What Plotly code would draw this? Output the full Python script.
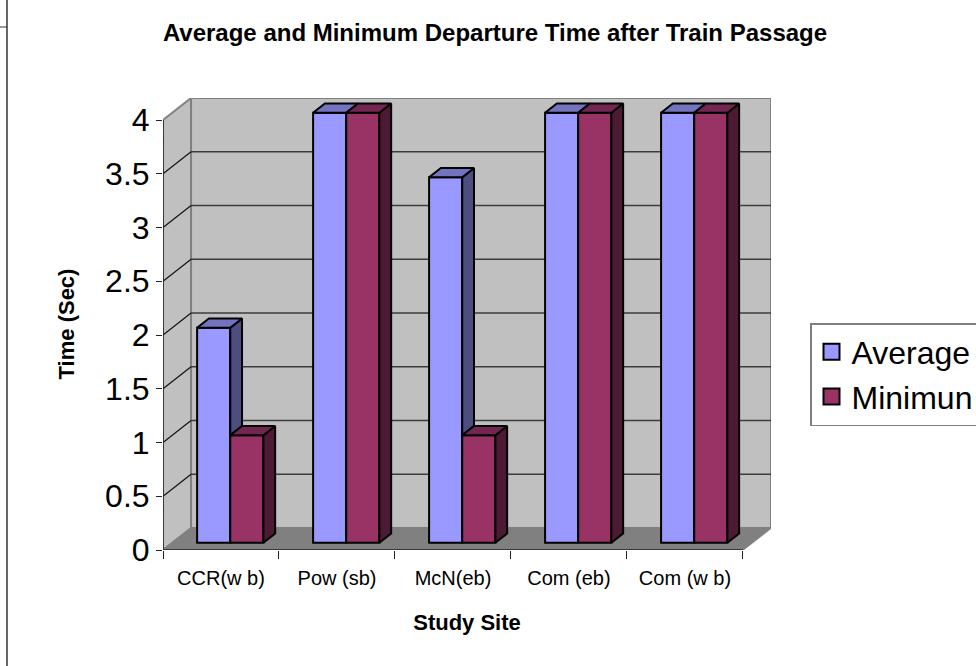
import plotly.graph_objects as go

categories = ["CCR(w b)", "Pow (sb)", "McN(eb)", "Com (eb)", "Com (w b)"]
average = [2, 4, 3.4, 4, 4]
minimum = [1, 4, 1, 4, 4]
y_ticks = [0, 0.5, 1, 1.5, 2, 2.5, 3, 3.5, 4]
y_labels = ["0", "0.5", "1", "1.5", "2", "2.5", "3", "3.5", "4"]

# pseudo-3D projection, in data units
DX, DY = 28 / 115.8, 22 / 107.5
FRONT, BACK = 0.33, 0.75
W = 0.2857
X_MAX = 5 + DX
Y_MAX = (550 - 98) / 107.5
EDGE = 2


def dpt(x, y, d):
    return x + d * DX, y + d * DY


def poly(pts, fill, width=EDGE, color="black"):
    xs = [p[0] for p in pts] + [pts[0][0]]
    ys = [p[1] for p in pts] + [pts[0][1]]
    return go.Scatter(x=xs, y=ys, mode="lines", fill="toself", fillcolor=fill,
                      line=dict(color=color, width=width), showlegend=False, hoverinfo="skip")


def path(pts):
    return "M" + " L".join(f"{x},{y}" for x, y in pts) + " Z"


n = len(categories)
shapes = [
    # left wall, back wall, floor
    dict(type="path", path=path([(0, 0), dpt(0, 0, 1), dpt(0, 4, 1), (0, 4)]), fillcolor="#C0C0C0",
         line=dict(color="#808080", width=2), layer="below"),
    dict(type="path", path=path([dpt(0, 0, 1), dpt(n, 0, 1), dpt(n, 4, 1), dpt(0, 4, 1)]), fillcolor="#C0C0C0",
         line=dict(color="#808080", width=2), layer="below"),
    dict(type="path", path=path([(0, 0), (n, 0), dpt(n, 0, 1), dpt(0, 0, 1)]), fillcolor="#808080",
         line=dict(color="#808080", width=1.5), layer="below"),
]
for t in y_ticks[1:-1]:
    a, b = dpt(0, t, 1), dpt(n, t, 1)
    shapes.append(dict(type="line", x0=a[0], y0=a[1], x1=b[0], y1=b[1], line=dict(color="#3c3c3c", width=1.3), layer="below"))
    shapes.append(dict(type="line", x0=0, y0=t, x1=a[0], y1=a[1], line=dict(color="#111111", width=1.2), layer="below"))
# axis lines
shapes.append(dict(type="line", x0=0, y0=0, x1=0, y1=4, line=dict(color="#222222", width=1.5)))
shapes.append(dict(type="line", x0=0, y0=0, x1=n, y1=0, line=dict(color="#222222", width=1.5)))
# page frame fragment at left
shapes.append(dict(type="line", xref="paper", yref="paper", x0=(7 - 163) / 608, x1=(7 - 163) / 608,
                   y0=-116 / 452, y1=(550) / 452, line=dict(color="#333333", width=1.5)))
shapes.append(dict(type="line", xref="paper", yref="paper", x0=-163 / 608, x1=(7 - 163) / 608,
                   y0=(550 - 27) / 452, y1=(550 - 27) / 452, line=dict(color="#333333", width=1)))

centers = [i + 0.5 + FRONT * DX for i in range(n)]
base = FRONT * DY
fig = go.Figure()
fig.add_bar(x=[c - W / 2 for c in centers], y=average, base=base, width=W, name="Average", showlegend=False,
            marker=dict(color="#9999FF", line=dict(color="black", width=EDGE)))
fig.add_bar(x=[c + W / 2 for c in centers], y=minimum, base=base, width=W, name="Minimun", showlegend=False,
            marker=dict(color="#993366", line=dict(color="black", width=EDGE)))

depth = BACK - FRONT
for c, a, m in zip(centers, average, minimum):
    xl, xm, xr = c - W, c, c + W
    ta, tm = a + base, m + base
    if a > m:
        fig.add_trace(poly([(xm, ta), (xm + depth * DX, ta + depth * DY), (xm + depth * DX, tm + depth * DY), (xm, tm)], "#4D4D80"))
    fig.add_trace(poly([(xl, ta), (xl + depth * DX, ta + depth * DY), (xm + depth * DX, ta + depth * DY), (xm, ta)], "#7373BF"))
    fig.add_trace(poly([(xr, tm), (xr + depth * DX, tm + depth * DY), (xr + depth * DX, base + depth * DY), (xr, base)], "#4D1A33"))
    fig.add_trace(poly([(xm, tm), (xm + depth * DX, tm + depth * DY), (xr + depth * DX, tm + depth * DY), (xr, tm)], "#732650"))

for name, col in [("Average", "#9999FF"), ("Minimun", "#993366")]:
    fig.add_trace(go.Scatter(x=[None], y=[None], mode="markers", name=name,
                             marker=dict(symbol="square", size=16, color=col, line=dict(color="black", width=2))))

fig.update_layout(
    width=976, height=666, autosize=False, barmode="overlay", plot_bgcolor="white", paper_bgcolor="white",
    margin=dict(l=163, r=205, t=98, b=116, autoexpand=False),
    font=dict(family="Liberation Sans, Arial, sans-serif", color="black"),
    title=dict(text="<b>Average and Minimum Departure Time after Train Passage</b>", x=(495) / 976, xanchor="center",
               y=1 - 33 / 666, yanchor="middle", font=dict(size=24)),
    xaxis=dict(range=[0, X_MAX], showgrid=False, zeroline=False, showline=False, ticks="", ticklen=0,
               tickmode="array", tickvals=[i + 0.5 for i in range(n)], ticktext=categories, tickangle=0,
               tickfont=dict(size=20), ticklabelstandoff=14,
               minor=dict(tickmode="array", tickvals=list(range(n + 1)), ticks="outside", ticklen=8, tickcolor="#222222", tickwidth=1.2, showgrid=False),
               title=dict(text="<b>Study Site</b>", font=dict(size=22), standoff=26)),
    yaxis=dict(range=[0, Y_MAX], showgrid=False, zeroline=False, showline=False, ticks="outside", ticklen=6,
               tickcolor="#222222", tickwidth=1.2, tickmode="array", tickvals=y_ticks, ticktext=y_labels,
               tickfont=dict(size=32),
               title=dict(text="<b>Time (Sec)</b>", font=dict(size=22), standoff=24)),
    shapes=shapes,
    legend=dict(x=(810 - 163) / 608, xanchor="left", y=(550 - 323) / 452, yanchor="top", bgcolor="white",
                bordercolor="#808080", borderwidth=1.5, font=dict(size=32), traceorder="normal", itemsizing="trace"),
)
fig.write_html("out.html", config={"displayModeBar": False},
               post_script="document.body.style.margin='0';document.documentElement.style.overflow='hidden';")
